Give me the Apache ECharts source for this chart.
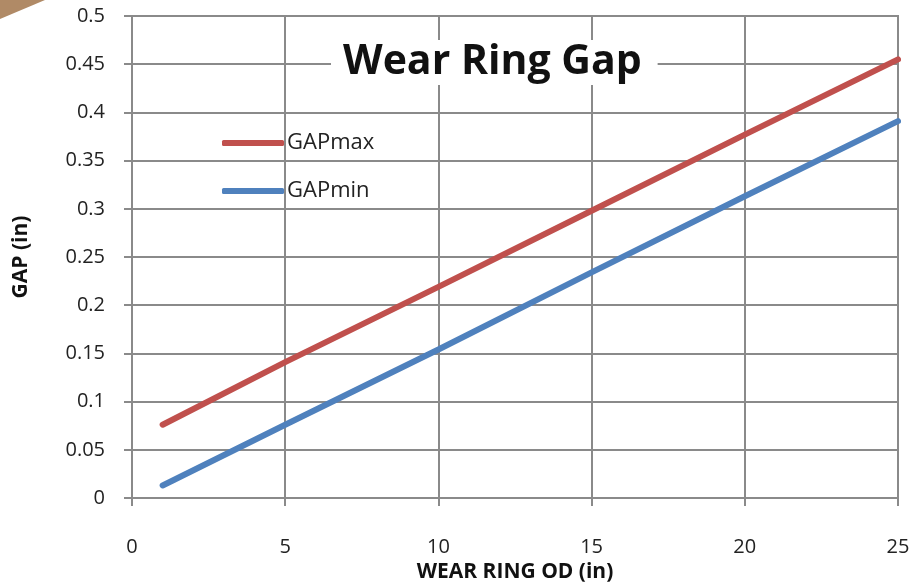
<!DOCTYPE html>
<html>
<head>
<meta charset="utf-8">
<script src="https://cdn.jsdelivr.net/npm/echarts@6/dist/echarts.min.js"></script>
<style>html,body{margin:0;padding:0;background:#fff;overflow:hidden;}#c{width:914px;height:582px;}</style>
</head>
<body>
<div id="c"></div>
<script>
var odValues = [1, 5, 10, 15, 20, 25];
var gapMax = [0.076, 0.141, 0.219, 0.298, 0.377, 0.455];
var gapMin = [0.013, 0.076, 0.154, 0.234, 0.313, 0.391];
var seriesNames = ['GAPmax', 'GAPmin'];

function pairs(xs, ys) { return xs.map(function (x, i) { return [x, ys[i]]; }); }

var gridColor = '#8a8a8a';
var chart = echarts.init(document.getElementById('c'));
chart.setOption({
  animation: false,
  backgroundColor: '#ffffff',
  title: {
    text: 'Wear Ring Gap',
    left: 331, top: 40,
    padding: [2, 16, 2, 12],
    backgroundColor: '#ffffff',
    textStyle: { fontFamily: 'Open Sans', fontWeight: 'bold', fontSize: 41, color: '#111' }
  },
  legend: {
    orient: 'vertical', left: 222, top: 132, padding: 0,
    itemWidth: 62, itemHeight: 6, itemGap: 26,
    textStyle: { fontFamily: 'Open Sans', fontSize: 22, color: '#222', padding: [0, 0, 0, -2] },
    data: [
      { name: seriesNames[0], icon: 'roundRect' },
      { name: seriesNames[1], icon: 'roundRect' }
    ]
  },
  graphic: [{
    type: 'polygon', shape: { points: [[0, 0], [45, 0], [0, 19]] },
    style: { fill: '#b08a66' }, z: 100
  }],
  grid: { left: 132, right: 16, top: 16, bottom: 84, show: true, borderColor: gridColor, borderWidth: 2,
    outerBoundsMode: 'none', containLabel: false },
  xAxis: {
    type: 'value', min: 0, max: 25, interval: 5,
    name: 'WEAR RING OD (in)', nameLocation: 'middle', nameGap: 62,
    nameTextStyle: { fontFamily: 'Open Sans', fontWeight: 'bold', fontSize: 21, color: '#111' },
    axisLine: { lineStyle: { color: gridColor, width: 2 } },
    axisTick: { show: true, length: 8, lineStyle: { color: gridColor, width: 2 } },
    axisLabel: { margin: 39, fontFamily: 'Open Sans', fontSize: 20, color: '#222' },
    splitLine: { show: true, lineStyle: { color: gridColor, width: 2 } }
  },
  yAxis: {
    type: 'value', min: 0, max: 0.5, interval: 0.05,
    name: 'GAP (in)', nameLocation: 'middle', nameGap: 100, nameRotate: 90,
    nameTextStyle: { fontFamily: 'Open Sans', fontWeight: 'bold', fontSize: 21, color: '#111' },
    axisLine: { show: true, lineStyle: { color: gridColor, width: 2 } },
    axisTick: { show: true, length: 8, lineStyle: { color: gridColor, width: 2 } },
    axisLabel: { margin: 27, fontFamily: 'Open Sans', fontSize: 20, color: '#222',
      formatter: function (v) { return String(Math.round(v * 100) / 100); } },
    splitLine: { show: true, lineStyle: { color: gridColor, width: 2 } }
  },
  series: [
    { name: seriesNames[0], type: 'line', data: pairs(odValues, gapMax), showSymbol: false, symbol: 'none',
      itemStyle: { color: '#c0504d' }, lineStyle: { color: '#c0504d', width: 6, cap: 'round' } },
    { name: seriesNames[1], type: 'line', data: pairs(odValues, gapMin), showSymbol: false, symbol: 'none',
      itemStyle: { color: '#4f81bd' }, lineStyle: { color: '#4f81bd', width: 6, cap: 'round' } }
  ]
});
</script>
</body>
</html>
